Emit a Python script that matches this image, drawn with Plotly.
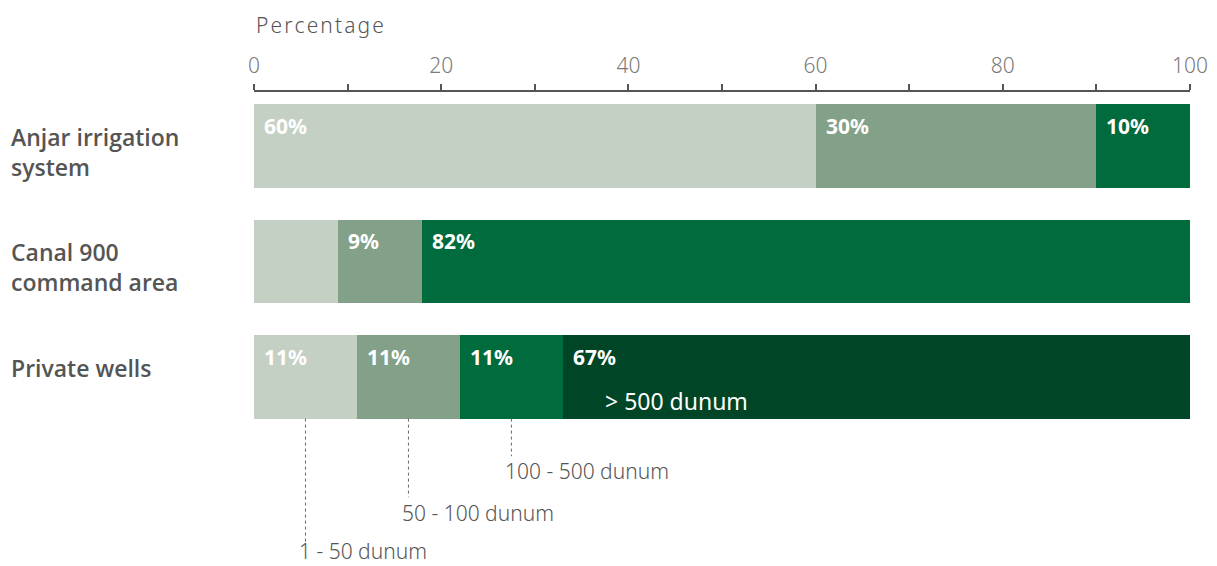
import plotly.graph_objects as go

categories = ["Anjar irrigation<br>system", "Canal 900<br>command area", "Private wells"]
size_classes = ["1 - 50 dunum", "50 - 100 dunum", "100 - 500 dunum", "> 500 dunum"]
# percentage per size class for each category
s1 = [60, 9, 11]
s2 = [30, 9, 11]
s3 = [10, 82, 11]
s4 = [0, 0, 67]
labels1 = ["60%", "", "11%"]
labels2 = ["30%", "9%", "11%"]
labels3 = ["10%", "82%", "11%"]
labels4 = ["", "", "67%"]
tick_vals = [0, 20, 40, 60, 80, 100]

colors = ["#c5d0c5", "#83a088", "#006b3c", "#004526"]
series = [s1, s2, s3, s4]
series_labels = [labels1, labels2, labels3, labels4]

FONT = "Noto Sans"
ypos = list(range(len(categories)))
BW = 0.72

fig = go.Figure()
for vals, col, name in zip(series, colors, size_classes):
    fig.add_trace(go.Bar(
        y=ypos, x=vals, orientation="h", marker=dict(color=col, line=dict(width=0)),
        width=BW, name=name, showlegend=False, hoverinfo="skip"))

annotations = []
# category labels
for i, c in enumerate(categories):
    annotations.append(dict(
        xref="paper", yref="y", x=-245 / 936, y=i - 0.235, xanchor="left", yanchor="top",
        text=c, showarrow=False, align="left",
        font=dict(family="Open Sans", size=23, color="#555555", weight=600)))

# percentage labels inside segments
for i in range(len(categories)):
    start = 0
    for vals, labs in zip(series, series_labels):
        if labs[i]:
            annotations.append(dict(
                xref="x", yref="y", x=start, y=i - 0.175, xanchor="left", yanchor="middle",
                xshift=8, text=labs[i], showarrow=False,
                font=dict(family=FONT, size=21, color="white", weight="bold")))
        start += vals[i]

# "> 500 dunum" inside last segment of Private wells
pw = 2
start4 = s1[pw] + s2[pw] + s3[pw]
annotations.append(dict(
    xref="x", yref="y", x=start4, y=pw + 0.21, xanchor="left", yanchor="middle",
    xshift=40, text=size_classes[3], showarrow=False,
    font=dict(family=FONT, size=23, color="white")))

# leader lines and labels for the first three size classes
line_ends = [3.43, 3.04, 2.685]
label_ys = [3.505, 3.18, 2.815]
shapes = []
start = 0
for k in range(3):
    v = series[k][pw]
    cx = start + v / 2
    shapes.append(dict(type="line", xref="x", yref="y", x0=cx, x1=cx,
                       y0=pw + BW / 2, y1=line_ends[k],
                       line=dict(color="#666666", width=1, dash="dot")))
    annotations.append(dict(
        xref="x", yref="y", x=cx, y=label_ys[k], xanchor="left", yanchor="middle",
        xshift=-8, text=size_classes[k], showarrow=False,
        font=dict(family=FONT, size=21, color="#555555", weight=300)))
    start += v

# axis title
annotations.append(dict(
    xref="paper", yref="paper", x=0, y=1, xanchor="left", yanchor="middle",
    yshift=67, text="\u200a".join("Percentage"), showarrow=False,
    font=dict(family=FONT, size=21, color="#555555", weight=300)))

fig.update_layout(
    width=1217, height=566, barmode="stack",
    margin=dict(l=254, r=27, t=92, b=0),
    paper_bgcolor="white", plot_bgcolor="white",
    annotations=annotations, shapes=shapes,
    xaxis=dict(side="top", range=[0, 100], tickvals=tick_vals, showgrid=False, zeroline=False,
               showline=True, linecolor="#555555", linewidth=1.5,
               ticks="outside", ticklen=6, tickcolor="#555555", tickwidth=1.5,
               minor=dict(dtick=10, ticks="outside", ticklen=6, tickcolor="#555555", tickwidth=1.5),
               tickfont=dict(family=FONT, size=21, color="#7a7a7a", weight=300),
               ticklabelstandoff=3),
    yaxis=dict(range=[3.636, -0.4675], showticklabels=False, showgrid=False,
               zeroline=False, showline=False),
)

fig.write_html("out.html")
